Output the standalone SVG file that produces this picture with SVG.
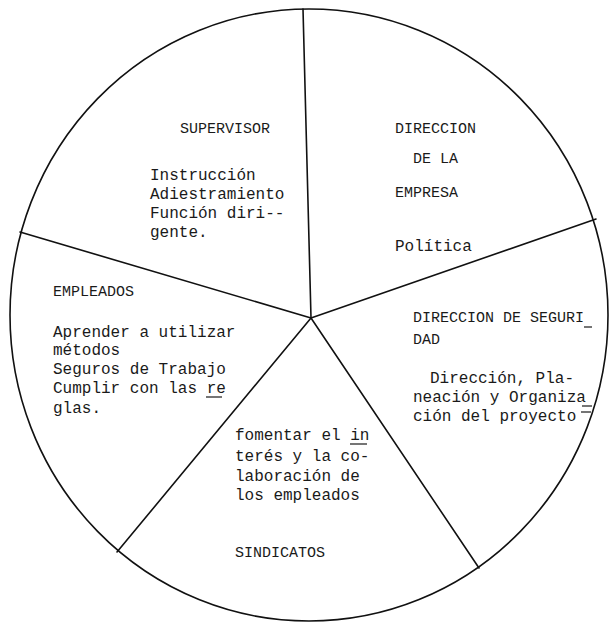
<svg xmlns="http://www.w3.org/2000/svg" width="610" height="624" viewBox="0 0 610 624">
<style>
  .ln { stroke:#111; stroke-width:1.6; fill:none; stroke-linecap:round; }
  .t { font-family:"Liberation Mono","DejaVu Sans Mono",monospace; font-size:16px; fill:#1a1a1a; }
  .c { font-family:"Liberation Mono","DejaVu Sans Mono",monospace; font-size:15px; fill:#1a1a1a; }
  .mk { stroke:#1a1a1a; stroke-width:1.2; }
</style>
<rect width="610" height="624" fill="#ffffff"/>
<g id="circle">
  <ellipse class="ln" cx="309" cy="315" rx="299" ry="306"/>
</g>
<g id="connectors">
  <line class="ln" x1="311" y1="318" x2="303" y2="9"/>
  <line class="ln" x1="311" y1="318" x2="20" y2="232"/>
  <line class="ln" x1="311" y1="318" x2="596" y2="219"/>
  <line class="ln" x1="311" y1="318" x2="117" y2="552"/>
  <line class="ln" x1="311" y1="318" x2="479" y2="568"/>
</g>
<g id="supervisor">
  <text class="c" x="180" y="133">SUPERVISOR</text>
  <text class="t" x="150" y="180">Instrucción</text>
  <text class="t" x="150" y="199">Adiestramiento</text>
  <text class="t" x="150" y="218">Función diri--</text>
  <text class="t" x="150" y="237">gente.</text>
</g>
<g id="direccion-empresa">
  <text class="c" x="395" y="133">DIRECCION</text>
  <text class="c" x="413" y="163">DE LA</text>
  <text class="c" x="395" y="197">EMPRESA</text>
  <text class="t" x="395" y="251">Política</text>
</g>
<g id="empleados">
  <text class="c" x="53" y="296">EMPLEADOS</text>
  <text class="t" x="53" y="337">Aprender a utilizar</text>
  <text class="t" x="53" y="355">métodos</text>
  <text class="t" x="53" y="374">Seguros de Trabajo</text>
  <text class="t" x="53" y="393">Cumplir con las re</text>
  <text class="t" x="53" y="413">glas.</text>
  <line class="mk" x1="206" y1="397" x2="222" y2="397"/>
</g>
<g id="direccion-seguridad">
  <text class="c" x="413" y="322">DIRECCION DE SEGURI</text>
  <text class="c" x="413" y="344">DAD</text>
  <text class="t" x="430" y="383">Dirección, Pla-</text>
  <text class="t" x="413" y="402">neación y Organiza</text>
  <text class="t" x="413" y="421">ción del proyecto</text>
  <line class="mk" x1="584" y1="327" x2="592" y2="327"/>
  <line class="mk" x1="582" y1="406" x2="592" y2="406"/>
  <line class="mk" x1="581" y1="412" x2="591" y2="412"/>
</g>
<g id="sindicatos">
  <text class="t" x="235" y="440">fomentar el in</text>
  <text class="t" x="235" y="461">terés y la co-</text>
  <text class="t" x="235" y="481">laboración de</text>
  <text class="t" x="235" y="500">los empleados</text>
  <text class="c" x="235" y="557">SINDICATOS</text>
  <line class="mk" x1="350" y1="444" x2="367" y2="444"/>
</g>
</svg>
